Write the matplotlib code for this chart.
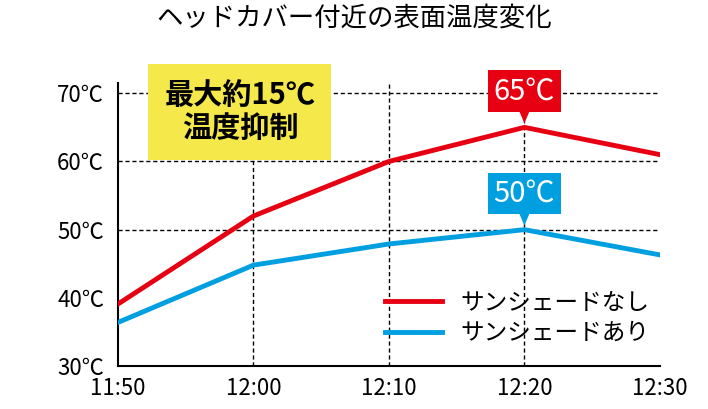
import matplotlib
matplotlib.use("Agg")
import matplotlib.pyplot as plt
from matplotlib.patches import Polygon

plt.rcParams["font.family"] = "Noto Sans CJK JP"

times = ["11:50", "12:00", "12:10", "12:20", "12:30"]
no_shade = [39.1, 52.0, 60.0, 65.0, 61.0]
with_shade = [36.4, 44.8, 47.9, 50.0, 46.3]
y_ticks = [30, 40, 50, 60, 70]

RED = "#e60012"
BLUE = "#00a0e0"

fig = plt.figure(figsize=(7.08, 4.09), dpi=100)
ax = fig.add_axes([0.1667, 0.105, 0.932 - 0.1667, 0.797 - 0.105])
x = list(range(len(times)))
ax.set_xlim(0, 4)
ax.set_ylim(30, 71.5)

for y in [50, 60, 70]:
    ax.axhline(y, color="black", ls=(0, (3, 2)), lw=1, zorder=1)
for xi in [1, 2, 3]:
    ax.axvline(xi, color="black", ls=(0, (3, 2)), lw=1, zorder=1)

ax.plot(x, no_shade, color=RED, lw=3.5, label="サンシェードなし", zorder=3, solid_joinstyle="miter")
ax.plot(x, with_shade, color=BLUE, lw=3.5, label="サンシェードあり", zorder=3, solid_joinstyle="miter")

for s in ["top", "right"]:
    ax.spines[s].set_visible(False)
ax.spines["left"].set_linewidth(1.5)
ax.spines["bottom"].set_linewidth(1.5)
ax.tick_params(length=0, labelsize=16, pad=8)
ax.set_xticks(x, times)
ax.set_yticks(y_ticks, [f"{v}℃" for v in y_ticks])
ax.tick_params(axis="y", pad=10)

ax.legend(loc="lower right", bbox_to_anchor=(1.02, 0.0), fontsize=17, frameon=False,
          handlelength=2.4, labelspacing=0.3)

fig.text(0.5, 0.955, "ヘッドカバー付近の表面温度変化", ha="center", va="center", fontsize=19)

# callout box
ax.text(0.9, 67.3, "最大約15℃\n温度抑制", ha="center", va="center", fontsize=21,
        fontweight="bold", linespacing=1.15, zorder=5,
        bbox=dict(boxstyle="square,pad=0.55", fc="#f5e84a", ec="none"))

# value labels
for val, col, txt in [(no_shade[3], RED, "65℃"), (with_shade[3], BLUE, "50℃")]:
    ax.text(3, val + 5.3, txt, ha="center", va="center", fontsize=21, color="white", zorder=6,
            bbox=dict(boxstyle="square,pad=0.2", fc=col, ec="none"))
    tri = Polygon([[2.94, val + 3.4], [3.06, val + 3.4], [3.0, val + 0.6]], closed=True,
                  fc=col, ec="none", zorder=6)
    ax.add_patch(tri)

fig.savefig("out.png", dpi=100)
